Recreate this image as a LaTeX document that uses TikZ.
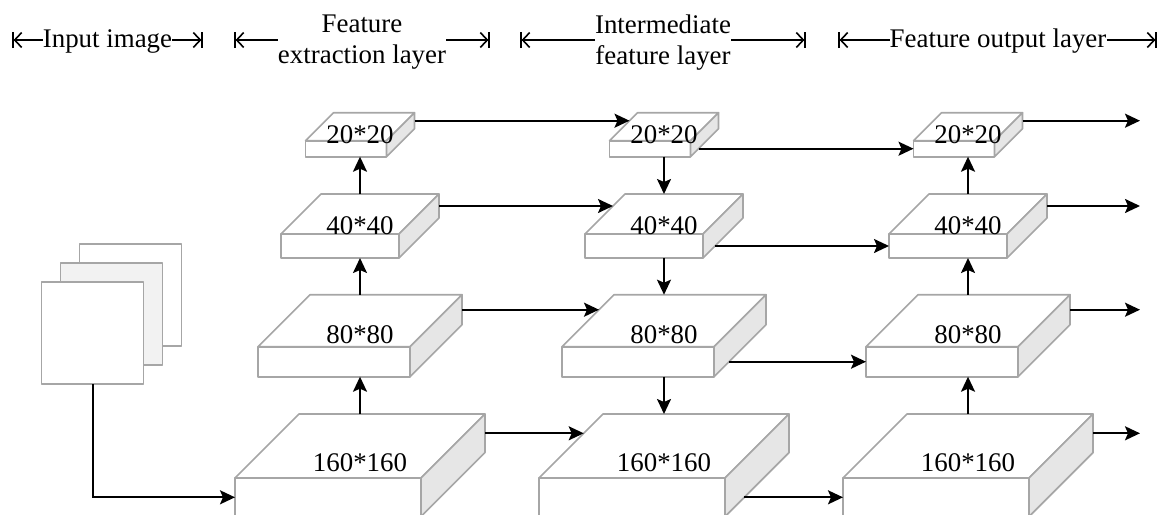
\documentclass[tikz,border=0pt]{standalone}
\usepackage{fontspec}
\setmainfont{Liberation Serif}
\usetikzlibrary{arrows.meta,calc}
\definecolor{boxedge}{HTML}{A6A6A6}
\definecolor{boxside}{HTML}{E6E6E6}
\definecolor{sheetgray}{HTML}{F2F2F2}

\begin{document}
\begin{tikzpicture}[x = 1pt, y = -1pt,
  every node/.style = {font = \fontsize{26.9}{31}\selectfont},
  face/.style = {draw = boxedge, line width = 1.6pt, line join = round},
  front/.style = {face, fill = white, rectangle, inner sep = 0pt, outer sep = 0pt},
  sheet/.style = {face, rectangle, inner sep = 0pt, outer sep = 0pt, minimum width = 102pt, minimum height = 102pt},
  flow/.style = {-{Stealth[length = 15pt, width = 14pt, inset = 3pt]}, line width = 2pt},
  span/.style = {line width = 1.6pt},
  spanleft/.style = {span, {Bar[width = 16pt]Straight Barb[length = 7pt, width = 15pt]}-},
  spanright/.style = {span, -{Straight Barb[length = 7pt, width = 15pt]Bar[width = 16pt]}},
  hdr/.style = {inner sep = 0pt, align = center}]
\useasboundingbox (0,0) rectangle (1166,514);
\clip (0,0) rectangle (1166,514);

% headings
\node[hdr, anchor = base] (inputtxt) at (107.5,47) {Input image};
\node[hdr, anchor = north] (extracttxt) at (362,15) {Feature\\extraction layer};
\node[hdr, anchor = north] (middletxt) at (663,15) {Intermediate\\feature layer};
\node[hdr, anchor = base] (outputtxt) at (998,47) {Feature output layer};
\coordinate (inL) at (12,40);
\coordinate (inR) at (203,40);
\coordinate (extL) at (234,40);
\coordinate (extR) at (490,40);
\coordinate (midL) at (520,40);
\coordinate (midR) at (806,40);
\coordinate (outL) at (838,40);
\coordinate (outR) at (1157,40);
\draw[spanleft] (inL) -- (inL -| inputtxt.west);
\draw[spanright] (inR -| inputtxt.east) -- (inR);
\draw[spanleft] (extL) -- (extL -| extracttxt.west);
\draw[spanright] (extR -| extracttxt.east) -- (extR);
\draw[spanleft] (midL) -- (midL -| middletxt.west);
\draw[spanright] (midR -| middletxt.east) -- (midR);
\draw[spanleft] (outL) -- (outL -| outputtxt.west);
\draw[spanright] (outR -| outputtxt.east) -- (outR);

% input image
\node[sheet, fill = white] (img3) at (130.5,295) {};
\node[sheet, fill = sheetgray] (img2) at (111.5,314) {};
\node[sheet, fill = white] (img1) at (92.5,333) {};

% feature blocks
\foreach \col/\cx in {ext/360, mid/664, outp/968} {
  \foreach \row/\bw/\bh/\bd/\yt/\dy in {20/81/16/28/140.7/2.6, 40/118/24/40/234/0, 80/152/30/52/346.7/-3.4, 160/186/38.6/64/478/-6.3} {
    \node[front, minimum width = \bw pt, minimum height = \bh pt] (\col\row) at ({\cx - \bd/2}, {\yt + \bh/2}) {};
    \draw[face, fill = white] (\col\row.north west) -- ++(\bd,-\bd) -- ++(\bw,0) -- (\col\row.north east) -- cycle;
    \draw[face, fill = boxside] (\col\row.north east) -- ++(\bd,-\bd) -- ++(0,\bh) -- (\col\row.south east) -- cycle;
    \coordinate (\col\row-top) at ($(\col\row.north)+(\bd/2,-\bd)$);
    \coordinate (\col\row-bot) at ($(\col\row.south)+(\bd/2,0)$);
    \coordinate (\col\row-rim) at ($(\col\row.east)+(\bd,-\bd)$);
    \coordinate (\col\row-slant) at ($(\col\row.north west)+(\bd-\bh/2,-\bd+\bh/2)$);
    \coordinate (\col\row-side) at ($(\col\row.east)+(\bh/2,0)$);
    \node[anchor = base] (\col\row-txt) at ($(\col\row.north)+(\bd/2,\dy)$) {\row*\row};
  }
}
\coordinate (xend) at (1140,0);

% connectors
\draw[flow] (img1.south) |- (ext160.west);
\draw[flow] (ext160-top) -- (ext80-bot);
\draw[flow] (ext80-top) -- (ext40-bot);
\draw[flow] (ext40-top) -- (ext20-bot);
\draw[flow] (mid20-bot) -- (mid40-top);
\draw[flow] (mid40-bot) -- (mid80-top);
\draw[flow] (mid80-bot) -- (mid160-top);
\draw[flow] (outp160-top) -- (outp80-bot);
\draw[flow] (outp80-top) -- (outp40-bot);
\draw[flow] (outp40-top) -- (outp20-bot);
\draw[flow] (ext20-rim) -- (mid20-slant);
\draw[flow] (ext40-rim) -- (mid40-slant);
\draw[flow] (ext80-rim) -- (mid80-slant);
\draw[flow] (ext160-rim) -- (mid160-slant);
\draw[flow] (mid20-side) -- (outp20.west);
\draw[flow] (mid40-side) -- (outp40.west);
\draw[flow] (mid80-side) -- (outp80.west);
\draw[flow] (mid160-side) -- (outp160.west);
\draw[flow] (outp20-rim) -- (outp20-rim -| xend);
\draw[flow] (outp40-rim) -- (outp40-rim -| xend);
\draw[flow] (outp80-rim) -- (outp80-rim -| xend);
\draw[flow] (outp160-rim) -- (outp160-rim -| xend);
\end{tikzpicture}
\end{document}
